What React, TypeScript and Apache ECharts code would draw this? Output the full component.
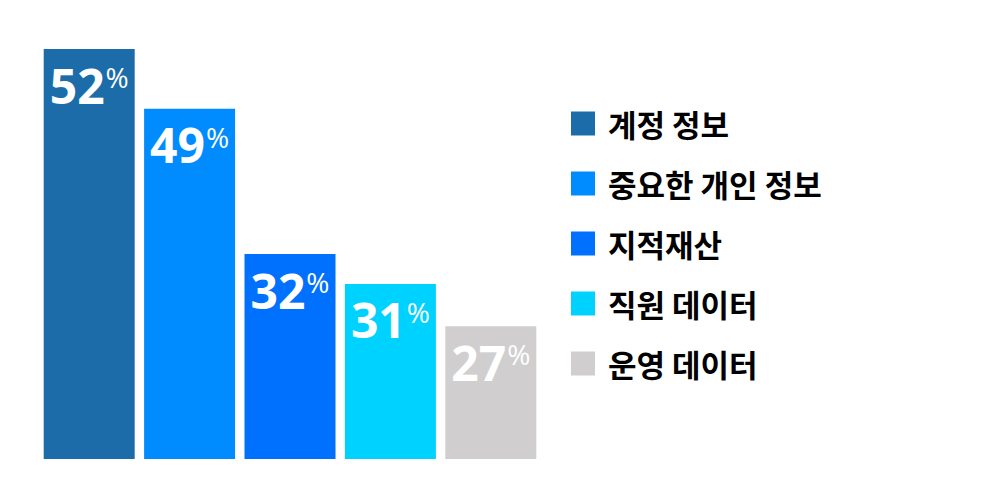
import React, { useEffect, useRef } from "react";
import * as echarts from "echarts";

const categories = ["계정 정보", "중요한 개인 정보", "지적재산", "직원 데이터", "운영 데이터"];
const percentLabels = [52, 49, 32, 31, 27];
// bar heights as drawn (relative to the tallest bar = 100)
const barHeights = [100, 85.4, 50, 42.7, 32.4];
const colors = ["#1c6caa", "#008cff", "#0070ff", "#00d2ff", "#d0cecf"];

export default function App() {
  const ref = useRef<HTMLDivElement>(null);
  useEffect(() => {
    const chart = echarts.init(ref.current!, null, { renderer: "svg" });
    const series = categories.map((name, i) => ({
      name,
      type: "bar",
      stack: "all",
      barWidth: 91,
      itemStyle: { color: colors[i] },
      data: categories.map((_, j) => (j === i ? barHeights[i] : "-")),
      label: {
        show: true,
        position: "insideTop",
        distance: 12,
        formatter: () => `{n|${percentLabels[i]}}{p|%}`,
        rich: {
          n: {
            fontFamily: "Open Sans",
            fontWeight: "bold",
            fontSize: 48,
            lineHeight: 48,
            color: "#fff",
          },
          p: {
            fontFamily: "Open Sans",
            fontSize: 28,
            lineHeight: 28,
            verticalAlign: "top",
            padding: [2, 0, 0, 1],
            color: "#fff",
          },
        },
      },
    }));
    chart.setOption({
      animation: false,
      grid: { left: 39, width: 502, top: 49, bottom: 41 },
      xAxis: {
        type: "category",
        data: categories,
        show: false,
      },
      yAxis: { type: "value", min: 0, max: 100, show: false },
      legend: {
        orient: "vertical",
        left: 571,
        top: 108,
        padding: 0,
        itemWidth: 24,
        itemHeight: 24,
        itemGap: 29,
        icon: "rect",
        textStyle: {
          fontFamily: "Noto Sans CJK KR",
          fontWeight: "bold",
          fontSize: 31,
          lineHeight: 30,
          color: "#000",
          padding: [0, 0, 0, 8],
        },
      },
      series,
    });
    return () => chart.dispose();
  }, []);
  return <div ref={ref} style={{ width: 1000, height: 500, position: "absolute", left: 0, top: 0 }} />;
}
